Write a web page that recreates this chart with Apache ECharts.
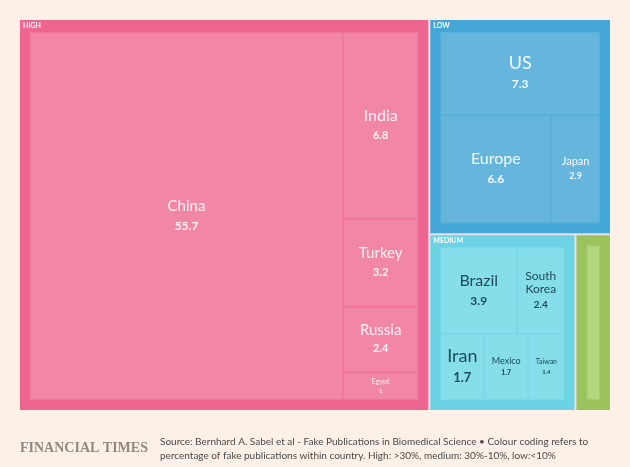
<!DOCTYPE html>
<html>
<head>
<meta charset="utf-8">
<script src="https://cdn.jsdelivr.net/npm/echarts@6/dist/echarts.min.js"></script>
<style>
html,body{margin:0;padding:0;background:#fdf0e6;}
#c{width:630px;height:467px;}
</style>
</head>
<body>
<div id="c"></div>
<script>
var highNames = ['China', 'India', 'Turkey', 'Russia', 'Egypt'];
var highValues = [55.7, 6.8, 3.2, 2.4, 1];
var lowNames = ['US', 'Europe', 'Japan'];
var lowValues = [7.3, 6.6, 2.9];
var mediumNames = ['Brazil', 'South Korea', 'Mexico', 'Iran', 'Taiwan'];
var mediumValues = [3.9, 2.4, 1.7, 1.7, 1.4];
var otherNames = [''];
var otherValues = [2.7];

var groupNames = ['HIGH', 'LOW', 'MEDIUM', ''];
var groupChildNames = [highNames, lowNames, mediumNames, otherNames];
var groupChildValues = [highValues, lowValues, mediumValues, otherValues];

// styles (kept apart from data)
var groupBorder = ['#ee6590', '#44a7d6', '#6bd3e4', '#9ac35b'];
var groupFill = ['#f286a5', '#65b5dc', '#86deeb', '#b3d67f'];
var groupText = ['#fff2f6', '#f2f9fd', '#1e4a58', '#ffffff'];
var labelSizes = {
  'China': [15, 12], 'India': [16, 11], 'Turkey': [15, 11], 'Russia': [15, 11], 'Egypt': [7, 6],
  'US': [18, 12], 'Europe': [16, 12], 'Japan': [11, 9],
  'Brazil': [16, 12], 'South Korea': [12, 10], 'Iran': [18, 13], 'Mexico': [9, 7], 'Taiwan': [7, 6]
};
var NAME_LH = 1.1, VALUE_LH = 1.9;

function visualMid(name) {
  var sz = labelSizes[name] || [10, 8];
  var lines = name.split(' ').length;
  var L0 = sz[0] * NAME_LH, L1 = sz[1] * VALUE_LH;
  return (L0 / 2 + lines * L0 + L1 / 2) / 2;
}

var data = groupNames.map(function (g, gi) {
  return {
    name: g,
    itemStyle: { borderColor: groupBorder[gi], color: groupBorder[gi] },
    upperLabel: { show: g !== '' },
    children: groupChildNames[gi].map(function (n, ci) {
      var sz = labelSizes[n] || [10, 8];
      return {
        name: n,
        value: groupChildValues[gi][ci],
        itemStyle: { color: groupFill[gi], borderColor: 'rgba(255,255,255,0.12)', borderWidth: 1 },
        label: {
          show: n !== '',
          color: groupText[gi],
          rich: {
            n: { fontSize: sz[0], color: groupText[gi], fontFamily: 'Lato', lineHeight: sz[0] * NAME_LH },
            v: { fontSize: sz[1], color: groupText[gi], fontWeight: 'bold', fontFamily: 'Lato', lineHeight: sz[1] * VALUE_LH }
          }
        }
      };
    })
  };
});

var chart = echarts.init(document.getElementById('c'));
chart.setOption({
  backgroundColor: '#fdf0e6',
  animation: false,
  series: [{
    type: 'treemap',
    left: 20, top: 20, width: 590, height: 390,
    roam: false,
    nodeClick: false,
    squareRatio: 1,
    breadcrumb: { show: false },
    data: data,
    label: {
      show: true,
      padding: 0,
      overflow: 'none',
      position: ['50%', '50%'],
      align: 'center',
      verticalAlign: 'middle',
      formatter: function (p) {
        return '{n|' + p.name.replace(' ', '\n') + '}\n{v|' + p.value + '}';
      }
    },
    labelLayout: function (params) {
      var m = /\{n\|([^}]*)\}/.exec(params.text || '');
      if (!m) return {};
      var name = m[1].replace('\n', ' ');
      return { dy: params.rect.height / 2 - visualMid(name) };
    },
    upperLabel: { formatter: '{b}' },
    levels: [
      { itemStyle: { gapWidth: 2, borderWidth: 0, borderColor: '#ebdde9' } },
      {
        itemStyle: { borderWidth: 10, gapWidth: 0 },
        upperLabel: {
          show: true, height: 12, fontSize: 7, color: '#ffffff',
          fontFamily: 'Lato', fontWeight: 'bold', padding: [0, 0, 0, 0],
          position: 'insideLeft', offset: [-12, 0], formatter: '{b}'
        }
      },
      { itemStyle: { gapWidth: 0 } }
    ]
  }],
  graphic: [
    { type: 'text', left: 20, top: 441, style: { text: 'FINANCIAL TIMES', font: 'bold 14px "Liberation Serif"', fill: '#8f8884' } },
    { type: 'text', left: 160, top: 435, style: { text: 'Source: Bernhard A. Sabel et al - Fake Publications in Biomedical Science \u2022 Colour coding refers to\npercentage of fake publications within country. High: >30%, medium: 30%-10%, low:<10%', font: '10px Lato', fill: '#4a4a4a', lineHeight: 14 } }
  ]
});
</script>
</body>
</html>
